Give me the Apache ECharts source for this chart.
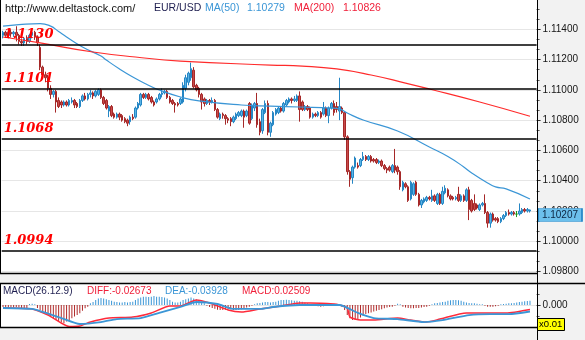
<!DOCTYPE html>
<html>
<head>
<meta charset="utf-8">
<script src="https://cdn.jsdelivr.net/npm/echarts/dist/echarts.min.js"></script>
<style>
html,body{margin:0;padding:0;background:#fff;}
#chart{width:585px;height:340px;}
</style>
</head>
<body>
<div id="chart"></div>
<script>
// EUR/USD bars: [open, close, low, high]
const candles = [
[1.1136,1.1138,1.1134,1.1139],[1.1138,1.1136,1.1135,1.1139],[1.1136,1.1138,1.1134,1.1140],[1.1138,1.1137,1.1135,1.1140],
[1.1137,1.1138,1.1135,1.1139],[1.1138,1.1136,1.1132,1.1142],[1.1136,1.1132,1.1130,1.1137],[1.1132,1.1131,1.1129,1.1134],
[1.1131,1.1134,1.1129,1.1135],[1.1134,1.1132,1.1130,1.1136],[1.1132,1.1136,1.1131,1.1137],[1.1136,1.1138,1.1134,1.1140],
[1.1138,1.1135,1.1133,1.1139],[1.1135,1.1131,1.1129,1.1136],[1.1128,1.1115,1.1113,1.1130],[1.1115,1.1110,1.1108,1.1116],
[1.1110,1.1108,1.1105,1.1112],[1.1108,1.1101,1.1099,1.1110],[1.1101,1.1097,1.1094,1.1103],[1.1097,1.1099,1.1095,1.1100],
[1.1099,1.1092,1.1085,1.1100],[1.1093,1.1089,1.1088,1.1095],[1.1092,1.1090,1.1088,1.1093],[1.1090,1.1092,1.1089,1.1093],
[1.1092,1.1090,1.1089,1.1093],[1.1090,1.1093,1.1089,1.1094],[1.1092,1.1093,1.1091,1.1095],[1.1093,1.1090,1.1088,1.1094],
[1.1091,1.1089,1.1088,1.1092],[1.1089,1.1093,1.1088,1.1094],[1.1093,1.1096,1.1092,1.1097],[1.1096,1.1094,1.1093,1.1098],
[1.1094,1.1097,1.1093,1.1098],[1.1097,1.1098,1.1095,1.1100],[1.1098,1.1096,1.1094,1.1099],[1.1096,1.1099,1.1095,1.1100],
[1.1097,1.1100,1.1096,1.1101],[1.1100,1.1095,1.1094,1.1101],[1.1095,1.1091,1.1090,1.1096],[1.1093,1.1088,1.1087,1.1094],
[1.1086,1.1089,1.1082,1.1090],[1.1089,1.1083,1.1082,1.1090],[1.1084,1.1082,1.1081,1.1085],[1.1082,1.1084,1.1081,1.1085],
[1.1084,1.1082,1.1080,1.1085],[1.1083,1.1080,1.1079,1.1084],[1.1081,1.1079,1.1078,1.1082],[1.1080,1.1078,1.1076,1.1081],
[1.1079,1.1082,1.1077,1.1083],[1.1082,1.1081,1.1080,1.1084],[1.1082,1.1088,1.1081,1.1089],[1.1088,1.1091,1.1087,1.1092],
[1.1090,1.1097,1.1089,1.1098],[1.1097,1.1095,1.1094,1.1098],[1.1095,1.1097,1.1094,1.1098],[1.1097,1.1094,1.1093,1.1098],
[1.1095,1.1092,1.1091,1.1096],[1.1092,1.1090,1.1089,1.1093],[1.1092,1.1094,1.1091,1.1095],[1.1094,1.1097,1.1093,1.1098],
[1.1097,1.1098,1.1095,1.1101],[1.1098,1.1099,1.1097,1.1100],[1.1099,1.1095,1.1094,1.1100],[1.1095,1.1092,1.1091,1.1096],
[1.1093,1.1091,1.1090,1.1094],[1.1091,1.1090,1.1085,1.1092],[1.1091,1.1090,1.1089,1.1092],[1.1091,1.1094,1.1090,1.1095],
[1.1092,1.1103,1.1091,1.1105],[1.1101,1.1108,1.1099,1.1110],[1.1105,1.1111,1.1103,1.1112],[1.1108,1.1114,1.1106,1.1118],
[1.1113,1.1102,1.1101,1.1115],[1.1103,1.1100,1.1099,1.1104],[1.1101,1.1097,1.1095,1.1102],[1.1097,1.1092,1.1087,1.1098],
[1.1094,1.1091,1.1089,1.1095],[1.1091,1.1093,1.1090,1.1094],[1.1093,1.1092,1.1090,1.1094],[1.1092,1.1093,1.1091,1.1095],
[1.1093,1.1087,1.1086,1.1094],[1.1087,1.1082,1.1081,1.1088],[1.1081,1.1084,1.1080,1.1085],[1.1084,1.1083,1.1081,1.1085],
[1.1083,1.1081,1.1077,1.1084],[1.1081,1.1080,1.1078,1.1082],[1.1081,1.1079,1.1076,1.1082],[1.1079,1.1082,1.1078,1.1083],
[1.1081,1.1084,1.1080,1.1085],[1.1083,1.1085,1.1082,1.1086],[1.1083,1.1086,1.1082,1.1087],[1.1086,1.1082,1.1075,1.1087],
[1.1083,1.1086,1.1082,1.1087],[1.1091,1.1078,1.1077,1.1092],[1.1081,1.1090,1.1080,1.1091],[1.1088,1.1091,1.1086,1.1092],
[1.1091,1.1077,1.1075,1.1098],[1.1079,1.1072,1.1070,1.1081],[1.1073,1.1087,1.1071,1.1088],[1.1085,1.1091,1.1084,1.1093],
[1.1091,1.1072,1.1070,1.1093],[1.1072,1.1078,1.1069,1.1079],[1.1077,1.1085,1.1076,1.1086],[1.1084,1.1087,1.1083,1.1088],
[1.1085,1.1088,1.1084,1.1089],[1.1088,1.1086,1.1085,1.1089],[1.1086,1.1091,1.1085,1.1092],[1.1090,1.1093,1.1089,1.1094],
[1.1092,1.1094,1.1091,1.1095],[1.1094,1.1093,1.1091,1.1095],[1.1093,1.1094,1.1092,1.1096],[1.1093,1.1096,1.1092,1.1097],
[1.1096,1.1087,1.1079,1.1099],[1.1092,1.1087,1.1086,1.1093],[1.1087,1.1089,1.1086,1.1090],[1.1089,1.1087,1.1086,1.1090],
[1.1088,1.1082,1.1081,1.1089],[1.1082,1.1084,1.1081,1.1085],[1.1084,1.1083,1.1082,1.1085],[1.1083,1.1085,1.1082,1.1086],
[1.1085,1.1082,1.1081,1.1086],[1.1084,1.1088,1.1083,1.1092],[1.1088,1.1083,1.1082,1.1089],[1.1083,1.1088,1.1078,1.1089],
[1.1088,1.1091,1.1087,1.1092],[1.1091,1.1085,1.1083,1.1093],[1.1089,1.1087,1.1085,1.1092],[1.1086,1.1089,1.1080,1.1108],
[1.1088,1.1085,1.1084,1.1089],[1.1085,1.1069,1.1067,1.1086],[1.1069,1.1046,1.1044,1.1070],[1.1046,1.1041,1.1036,1.1047],
[1.1042,1.1049,1.1038,1.1050],[1.1049,1.1055,1.1048,1.1056],[1.1050,1.1049,1.1048,1.1052],[1.1050,1.1054,1.1049,1.1055],
[1.1054,1.1056,1.1053,1.1059],[1.1056,1.1054,1.1053,1.1057],[1.1054,1.1056,1.1053,1.1057],[1.1056,1.1053,1.1052,1.1057],
[1.1054,1.1053,1.1052,1.1055],[1.1054,1.1052,1.1051,1.1055],[1.1052,1.1053,1.1051,1.1054],[1.1053,1.1050,1.1049,1.1054],
[1.1050,1.1048,1.1047,1.1051],[1.1048,1.1047,1.1045,1.1049],[1.1049,1.1047,1.1046,1.1050],[1.1046,1.1050,1.1045,1.1051],
[1.1050,1.1047,1.1045,1.1061],[1.1049,1.1046,1.1044,1.1050],[1.1046,1.1036,1.1034,1.1047],[1.1034,1.1039,1.1033,1.1040],
[1.1038,1.1036,1.1035,1.1039],[1.1036,1.1027,1.1026,1.1037],[1.1028,1.1039,1.1027,1.1040],[1.1031,1.1038,1.1030,1.1039],
[1.1039,1.1031,1.1030,1.1040],[1.1031,1.1024,1.1023,1.1032],[1.1024,1.1027,1.1022,1.1028],[1.1026,1.1028,1.1025,1.1029],
[1.1027,1.1029,1.1026,1.1030],[1.1029,1.1028,1.1027,1.1030],[1.1027,1.1030,1.1026,1.1034],[1.1030,1.1027,1.1026,1.1031],
[1.1025,1.1031,1.1024,1.1032],[1.1031,1.1025,1.1024,1.1032],[1.1025,1.1033,1.1024,1.1036],[1.1032,1.1035,1.1031,1.1037],
[1.1034,1.1030,1.1029,1.1035],[1.1030,1.1028,1.1027,1.1031],[1.1029,1.1028,1.1027,1.1030],[1.1028,1.1029,1.1027,1.1030],
[1.1031,1.1027,1.1026,1.1036],[1.1027,1.1030,1.1026,1.1031],[1.1030,1.1027,1.1026,1.1031],[1.1027,1.1034,1.1026,1.1035],
[1.1034,1.1021,1.1014,1.1036],[1.1027,1.1020,1.1019,1.1028],[1.1025,1.1021,1.1020,1.1031],[1.1024,1.1022,1.1021,1.1025],
[1.1021,1.1024,1.1020,1.1025],[1.1024,1.1025,1.1023,1.1026],[1.1025,1.1019,1.1018,1.1031],[1.1019,1.1012,1.1009,1.1020],
[1.1012,1.1018,1.1009,1.1019],[1.1018,1.1014,1.1013,1.1019],[1.1015,1.1014,1.1013,1.1016],[1.1015,1.1013,1.1012,1.1016],
[1.1013,1.1015,1.1012,1.1016],[1.1015,1.1017,1.1014,1.1018],[1.1017,1.1019,1.1016,1.1020],[1.1019,1.1018,1.1017,1.1021],
[1.1018,1.1019,1.1017,1.1020],[1.1019,1.1018,1.1017,1.1020],[1.1018,1.1018,1.1016,1.1020],[1.1018,1.1020,1.1017,1.1025],
[1.1019,1.1021,1.1018,1.1022],[1.1021,1.1020,1.1019,1.1022],[1.1020,1.1021,1.1019,1.1022],[1.1020,1.10207,1.1019,1.1021]
];

// moving averages, [bar index, value]
const ma50 = [
[0,1.11421],[6,1.11431],[14,1.11438],[18,1.11421],[21,1.11385],[24,1.11349],[30,1.11283],[37,1.11223],
[39,1.11197],[44,1.11138],[49,1.11085],[54,1.11039],[59,1.10999],[67,1.10953],[74,1.10927],[90,1.10900],
[101,1.10893],[112,1.10887],[124,1.10880],[127,1.10874],[130,1.10847],[136,1.10801],[149,1.10728],
[161,1.10623],[168,1.10560],[174,1.10491],[177,1.10451],[183,1.10385],[186,1.10359],[190,1.10346],[199,1.10279]
];
const ma200 = [
[0,1.11349],[14,1.11310],[34,1.11250],[50,1.11217],[67,1.11190],[101,1.11164],[113,1.11157],
[126,1.11138],[139,1.11098],[152,1.11045],[161,1.11006],[180,1.10920],[199,1.10826]
];

// support / resistance levels
const levels = [1.1130, 1.1101, 1.1068, 1.0994];

// MACD(26,12,9), values shown x0.01
const diff = [
[0,-0.018],[11,-0.024],[17,-0.061],[22,-0.109],[25,-0.130],[29,-0.127],[33,-0.103],[40,-0.079],
[49,-0.073],[56,-0.048],[63,-0.006],[67,-0.006],[73,0.030],[78,0.012],[85,-0.030],[90,-0.042],
[97,-0.024],[105,-0.006],[112,0.012],[116,0.012],[125,0.006],[127,0.000],[130,-0.018],[131,-0.073],
[135,-0.091],[140,-0.091],[149,-0.079],[154,-0.091],[160,-0.103],[165,-0.085],[175,-0.048],
[183,-0.048],[190,-0.048],[199,-0.02673]
];
const dea = [
[0,-0.018],[11,-0.024],[15,-0.042],[22,-0.079],[29,-0.115],[37,-0.103],[43,-0.085],[52,-0.079],
[59,-0.048],[67,-0.012],[73,0.018],[81,0.006],[87,-0.024],[97,-0.024],[102,-0.012],[112,0.000],
[127,0.000],[134,-0.048],[140,-0.079],[149,-0.085],[159,-0.103],[166,-0.091],[176,-0.061],
[184,-0.055],[191,-0.055],[199,-0.03928]
];
const macdHist = [
-0.012,-0.015,-0.018,-0.018,-0.015,-0.012,-0.015,-0.018,-0.020,-0.018,
0.006,0.008,0.004,-0.018,-0.030,-0.040,-0.050,-0.060,-0.070,-0.080,
-0.090,-0.100,-0.105,-0.110,-0.100,-0.090,-0.080,-0.070,-0.060,-0.050,
-0.035,-0.020,-0.010,0.010,0.018,0.030,0.040,0.042,0.040,0.035,
0.030,0.025,0.020,0.018,0.015,0.015,0.018,0.015,0.018,0.020,
0.030,0.040,0.045,0.050,0.050,0.048,0.050,0.055,0.050,0.050,
0.048,0.045,0.040,0.030,0.020,0.015,0.015,0.020,0.030,0.035,
0.040,0.045,0.040,0.035,0.030,0.020,0.010,-0.005,-0.012,-0.018,
-0.022,-0.028,-0.030,-0.030,-0.028,-0.025,-0.025,-0.030,-0.030,-0.028,
-0.025,-0.020,-0.015,-0.010,-0.005,0.005,0.010,0.012,0.015,0.018,
0.018,0.015,0.018,0.020,0.025,0.030,0.030,0.032,0.030,0.028,
0.025,0.025,0.022,0.020,0.015,0.010,0.005,0.004,-0.005,-0.008,
-0.010,-0.008,-0.006,-0.004,0.005,0.008,0.006,-0.005,-0.010,-0.030,
-0.060,-0.080,-0.090,-0.090,-0.085,-0.075,-0.065,-0.055,-0.050,-0.045,
-0.040,-0.035,-0.030,-0.025,-0.020,-0.015,-0.012,-0.010,-0.005,0.008,
0.005,-0.010,-0.015,-0.018,-0.020,-0.020,-0.018,-0.018,-0.015,-0.012,
-0.010,-0.005,0.005,0.010,0.012,0.015,0.018,0.020,0.025,0.028,
0.030,0.030,0.028,0.025,0.020,0.015,0.012,0.010,0.010,0.008,
0.005,0.004,-0.005,-0.010,-0.010,-0.010,-0.008,-0.005,0.004,0.006,
0.008,0.010,0.010,0.012,0.015,0.018,0.020,0.022,0.024,0.02509
];

// price axis ticks
const priceMin = 1.098, priceMax = 1.116, priceStep = 0.002;
const macdMin = -0.133, macdMax = 0.133;

// two empty slots after the last bar leave room before the price axis
const categories = candles.map((_, i) => String(i + 1)).concat(['201', '202']);

const BLUE = '#3b96d6';
const RED = '#f0203a';
const NAVY = '#1e1e50';
const FONT = '"Liberation Sans", Arial, sans-serif';

const last = a => a[a.length - 1];
const lastClose = last(candles)[1];

const chart = echarts.init(document.getElementById('chart'), null, {renderer: 'canvas'});

const gridLeft = 1.7, gridWidth = 534.9;

function txt(x, y, text, fill, size) {
  return {type: 'text', x: x, y: y, z: 20, silent: true,
    style: {text: text, fill: fill, font: (size || 10) + 'px ' + FONT, verticalAlign: 'middle'}};
}

chart.setOption({
  animation: false,
  backgroundColor: '#ffffff',
  grid: [
    {left: gridLeft, top: -1, width: gridWidth, height: 272.6, containLabel: false, outerBoundsMode: 'none'},
    {left: gridLeft, top: 283, width: gridWidth, height: 44, containLabel: false, outerBoundsMode: 'none'}
  ],
  xAxis: [
    {type: 'category', gridIndex: 0, data: categories, boundaryGap: true, show: false},
    {type: 'category', gridIndex: 1, data: categories, boundaryGap: true, show: false}
  ],
  yAxis: [
    {
      type: 'value', gridIndex: 0, position: 'right', min: priceMin, max: priceMax, interval: priceStep,
      axisLine: {show: false},
      axisTick: {show: true, length: 4, lineStyle: {color: '#333'}},
      minorTick: {show: true, splitNumber: 3, length: 3, lineStyle: {color: '#555'}},
      axisLabel: {color: '#151515', fontSize: 10, fontFamily: FONT, margin: 6, showMaxLabel: false,
        formatter: v => v.toFixed(5)},
      splitLine: {show: true, lineStyle: {color: '#e6e6e6', width: 1}}
    },
    {
      type: 'value', gridIndex: 1, position: 'right', min: macdMin, max: macdMax, interval: macdMax,
      axisLine: {show: false},
      axisTick: {show: true, length: 4, lineStyle: {color: '#333'}},
      minorTick: {show: true, splitNumber: 2, length: 3, lineStyle: {color: '#555'}},
      axisLabel: {color: '#151515', fontSize: 10, fontFamily: FONT, margin: 6,
        showMinLabel: false, showMaxLabel: false,
        formatter: v => (Math.abs(v) < 1e-9 ? 0 : v).toFixed(3)},
      splitLine: {show: true, lineStyle: {color: '#e6e6e6', width: 1}}
    }
  ],
  series: [
    {
      name: 'EUR/USD', type: 'candlestick', xAxisIndex: 0, yAxisIndex: 0,
      data: candles, barWidth: 2,
      itemStyle: {
        color: '#5ab4e6', color0: '#c84a4a',
        borderColor: '#2586c4', borderColor0: '#a52828', borderColorDoji: '#1c9a1c', borderWidth: 1
      },
      markLine: {
        silent: true, symbol: ['none', 'none'], animation: false, precision: 4,
        lineStyle: {color: '#000', width: 1.5, type: 'solid'},
        label: {
          position: 'insideStartTop', distance: [2, 3],
          formatter: p => Number(p.value).toFixed(4),
          color: '#ff0000', fontFamily: '"DejaVu Serif", serif', fontStyle: 'italic', fontWeight: 'bold', fontSize: 13
        },
        data: levels.map(v => ({yAxis: v}))
      },
      markPoint: {
        silent: true, animation: false,
        symbol: 'rect', symbolSize: [44, 13], symbolOffset: [30, 5],
        itemStyle: {color: '#6cc0ec', borderColor: '#2a8bcb', borderWidth: 1},
        label: {show: true, color: '#0b2440', fontSize: 10, fontFamily: FONT,
          formatter: p => Number(p.value).toFixed(5)},
        data: [{coord: [candles.length - 1, lastClose], value: lastClose}]
      }
    },
    {
      name: 'MA(50)', type: 'line', xAxisIndex: 0, yAxisIndex: 0, data: ma50, smooth: true,
      showSymbol: false, silent: true, lineStyle: {color: BLUE, width: 1.2}
    },
    {
      name: 'MA(200)', type: 'line', xAxisIndex: 0, yAxisIndex: 0, data: ma200, smooth: true,
      showSymbol: false, silent: true, lineStyle: {color: '#ff2b2b', width: 1.2}
    },
    {
      name: 'MACD', type: 'bar', xAxisIndex: 1, yAxisIndex: 1, barWidth: 1, silent: true,
      data: macdHist.map(v => ({value: v, itemStyle: {color: v >= 0 ? '#3b96d6' : '#b02a2a'}}))
    },
    {
      name: 'DIFF', type: 'line', xAxisIndex: 1, yAxisIndex: 1, data: diff, smooth: 0.2,
      showSymbol: false, silent: true, lineStyle: {color: '#ff2a3a', width: 1.5}
    },
    {
      name: 'DEA', type: 'line', xAxisIndex: 1, yAxisIndex: 1, data: dea, smooth: 0.2,
      showSymbol: false, silent: true, lineStyle: {color: BLUE, width: 1.8}
    }
  ],
  graphic: [
    // axis strip and panel separators
    {type: 'rect', z: -1, silent: true, shape: {x: 537, y: 0, width: 48, height: 340}, style: {fill: '#f2f2f2'}},
    {type: 'rect', z: -1, silent: true, shape: {x: 0, y: 273, width: 537, height: 10}, style: {fill: '#f2f2f2'}},
    {type: 'rect', z: -1, silent: true, shape: {x: 0, y: 327, width: 537, height: 13}, style: {fill: '#f2f2f2'}},
    {type: 'line', z: 15, silent: true, shape: {x1: 537.5, y1: 0, x2: 537.5, y2: 340}, style: {stroke: '#000', lineWidth: 1}},
    {type: 'line', z: 15, silent: true, shape: {x1: 0, y1: 273.5, x2: 537, y2: 273.5}, style: {stroke: '#000', lineWidth: 1.5}},
    {type: 'line', z: 15, silent: true, shape: {x1: 0, y1: 283.5, x2: 585, y2: 283.5}, style: {stroke: '#000', lineWidth: 1.5}},
    {type: 'line', z: 15, silent: true, shape: {x1: 0, y1: 327.5, x2: 537, y2: 327.5}, style: {stroke: '#000', lineWidth: 1.5}},
    {type: 'line', z: 15, silent: true, shape: {x1: 0.5, y1: 0, x2: 0.5, y2: 273}, style: {stroke: '#000', lineWidth: 1}},
    {type: 'line', z: 15, silent: true, shape: {x1: 0.5, y1: 283, x2: 0.5, y2: 327}, style: {stroke: '#000', lineWidth: 1}},
    // header
    txt(5, 8.5, 'http://www.deltastock.com/', '#111', 11),
    txt(154, 8.5, 'EUR/USD', NAVY, 10.5),
    txt(205, 8.5, 'MA(50)', BLUE, 10.5),
    txt(247, 8.5, last(ma50)[1].toFixed(5), BLUE, 10.5),
    txt(294, 8.5, 'MA(200)', RED, 10.5),
    txt(343, 8.5, last(ma200)[1].toFixed(5), RED, 10.5),
    // MACD legend
    txt(3, 291, 'MACD(26.12.9)', NAVY, 10),
    txt(87, 291, 'DIFF:' + last(diff)[1].toFixed(5), RED, 10),
    txt(165, 291, 'DEA:' + last(dea)[1].toFixed(5), BLUE, 10),
    txt(242, 291, 'MACD:' + last(macdHist).toFixed(5), RED, 10),
    // scale multiplier tag
    {type: 'rect', z: 20, silent: true, shape: {x: 537.5, y: 318.5, width: 27, height: 12}, style: {fill: '#ffff00', stroke: '#000', lineWidth: 1}},
    txt(539, 324.8, 'x0.01', '#000', 9.5)
  ]
});
</script>
</body>
</html>
